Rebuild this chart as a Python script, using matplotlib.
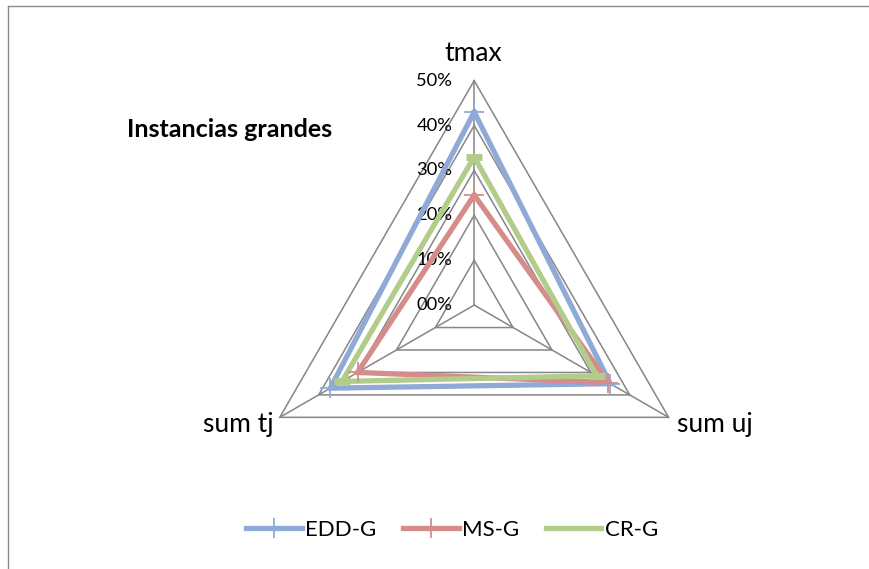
import numpy as np
import matplotlib
matplotlib.use("Agg")
import matplotlib.pyplot as plt
from matplotlib.lines import Line2D

categories = ["tmax", "sum uj", "sum tj"]
series_names = ["EDD-G", "MS-G", "CR-G"]
edd_g = [43, 35, 37]
ms_g = [24.5, 34.5, 30]
cr_g = [33, 31.5, 34]
tick_values = [0, 10, 20, 30, 40, 50]
tick_labels = ["00%", "10%", "20%", "30%", "40%", "50%"]

colors = ["#8FAAD6", "#D58C8A", "#B2CC8A"]
angles = np.deg2rad([90, -30, 210])

plt.rcParams['font.family'] = ['Lato', 'DejaVu Sans']

W, H = 870, 569
fig = plt.figure(figsize=(W / 100, H / 100), dpi=100)
cx, cy, scale = 474.2, 305.1, 4.49  # pixel center, px per percent
ax = fig.add_axes([0, 0, 1, 1])
ax.set_xlim(-cx / scale, (W - cx) / scale)
ax.set_ylim(-(H - cy) / scale, cy / scale)
ax.axis("off")

def to_xy(vals):
    v = np.asarray(vals, dtype=float)
    x = v * np.cos(angles)
    y = v * np.sin(angles)
    return np.append(x, x[0]), np.append(y, y[0])

grid_c = "#868686"
for t in tick_values[1:]:
    gx, gy = to_xy([t] * 3)
    ax.plot(gx, gy, color=grid_c, lw=1.1, zorder=1)
for a in angles:
    ax.plot([0, 50 * np.cos(a)], [0, 50 * np.sin(a)], color=grid_c, lw=1.1, zorder=1)

for t, lab in zip(tick_values, tick_labels):
    ax.text(-4.9, t, lab, ha="right", va="center", fontsize=13.2, color="#000000")

markers = ["+", "+", "_"]
msizes = [14, 14, 11]
mews = [1.3, 1.3, 5]
for vals, name, c, m, ms, mw in zip([edd_g, ms_g, cr_g], series_names, colors, markers, msizes, mews):
    x, y = to_xy(vals)
    ax.plot(x, y, color=c, lw=3.8, solid_joinstyle="miter", zorder=3, label=name)
    ax.plot(x[:-1], y[:-1], ls="none", marker=m, ms=ms, mew=mw, color=c, zorder=4)

ax.text(-0.2, 56.0, categories[0], ha="center", va="center", fontsize=19)
ax.text(45.2, -26.5, categories[1], ha="left", va="center", fontsize=19)
ax.text(-44.6, -26.5, categories[2], ha="right", va="center", fontsize=19)

ax.text(-77.3, 39.0, "Instancias grandes", ha="left", va="center", fontsize=18, fontweight="bold")

handles = []
for c, m, ms, mw in zip(colors, markers, msizes, mews):
    handles.append(Line2D([0], [0], color=c, lw=3.8, marker=m, ms=ms if m == "+" else 0, mew=mw))
leg = fig.legend(handles, series_names, loc="center", bbox_to_anchor=(452 / W, 1 - 530 / H),
                 ncol=3, frameon=False, fontsize=16, handlelength=2.5, handletextpad=0.15,
                 columnspacing=1.2)

# chart area border (top and left visible)
fig.add_artist(Line2D([8.5 / W, 1.0], [1 - 5.5 / H, 1 - 5.5 / H], transform=fig.transFigure,
                      color="#8A8A8A", lw=1.0))
fig.add_artist(Line2D([8.5 / W, 8.5 / W], [0.0, 1 - 5.5 / H], transform=fig.transFigure,
                      color="#8A8A8A", lw=1.0))

fig.savefig("out.png", dpi=100)
